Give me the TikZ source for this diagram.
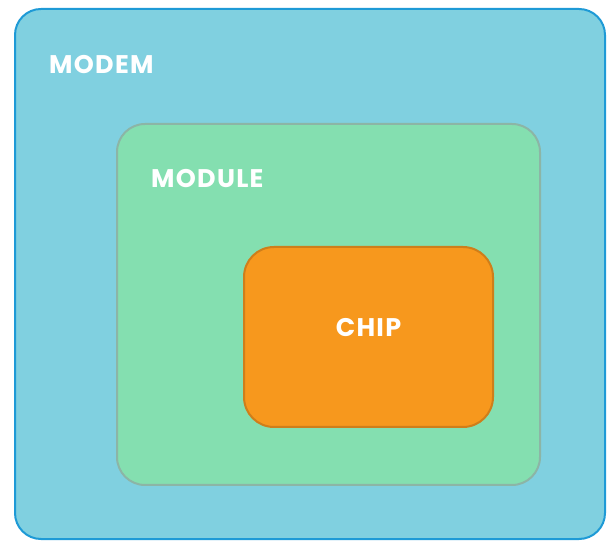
\documentclass[tikz,border=0pt]{standalone}
\usepackage{fontspec}
\setmainfont{Poppins}
\usepackage{xcolor}
\usepackage{tikz}
\usetikzlibrary{positioning}
\definecolor{modemfill}{HTML}{80D0E0}
\definecolor{modemline}{HTML}{1E9AD6}
\definecolor{modulefill}{HTML}{84DFB0}
\definecolor{moduleline}{HTML}{8CB5A6}
\definecolor{chipfill}{HTML}{F7981D}
\definecolor{chipline}{HTML}{CF7E1A}
\tikzset{box/.style = {rectangle,rounded corners=28pt,line width=2pt,inner sep=0pt}}

\begin{document}
\begin{tikzpicture}[x=1pt,y=1pt,label text/.style={font=\addfontfeatures{LetterSpace=5}\bfseries\fontsize{25.5}{30}\selectfont,text=white,inner sep=0pt}]
            \useasboundingbox (0,0) rectangle (612,540);
            \node[box,draw=modemline,fill=modemfill,minimum width=590pt,minimum height=530pt,rounded corners=26pt] (modem) at (310,266) {};
            \node[box,draw=moduleline,fill=modulefill,minimum width=423pt,minimum height=361pt] (module) at (328.5,235.5) {};
            \node[box,draw=chipline,fill=chipfill,minimum width=249pt,minimum height=180pt,rounded corners=30pt] (chip) at (368.5,203) {};
            \node[label text] (modemname) [below right=57pt and 35pt of modem.north west,anchor=west] {MODEM};
            \node[label text] (modulename) [below right=56pt and 35pt of module.north west,anchor=west] {MODULE};
            \node[label text] (chipname) [above=9pt of chip.center,anchor=center] {CHIP};
        \end{tikzpicture}
\end{document}
